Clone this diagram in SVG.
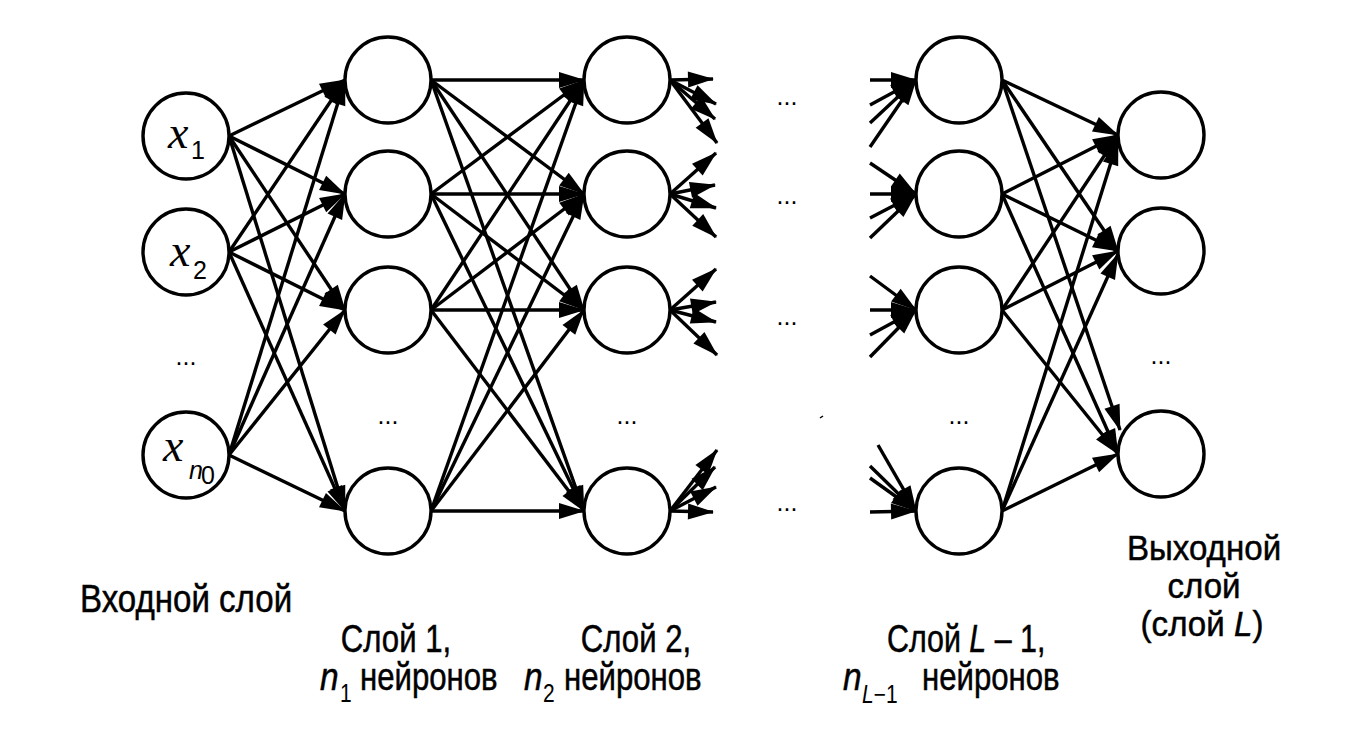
<svg xmlns="http://www.w3.org/2000/svg" width="1355" height="735" viewBox="0 0 1355 735">
<style>
.n{fill:#fff;stroke:#000;stroke-width:3.4}
.e line{stroke:#000;stroke-width:3.4;marker-end:url(#ah)}
.t{font-family:"Liberation Sans",Arial,sans-serif;font-size:38px;fill:#000;stroke:#000;stroke-width:0.5}
.o{font-size:36px}
.d{font-family:"Liberation Sans",Arial,sans-serif;font-size:25px;fill:#000;text-anchor:middle}
.xi{font-family:"Liberation Serif","Times New Roman",serif;font-style:italic;font-size:46px;fill:#000}
.sb{font-family:"Liberation Sans",Arial,sans-serif;font-size:25px;fill:#000}
.it{font-style:italic}
</style>
<defs>
<marker id="ah" markerUnits="userSpaceOnUse" markerWidth="26" markerHeight="16" refX="25" refY="8" orient="auto" overflow="visible">
<path d="M0,0 L26,8 L0,16 z" fill="#000"/>
</marker>
</defs>
<rect width="1355" height="735" fill="#fff"/>
<g id="connectors" class="e">
<line x1="229" y1="136" x2="345" y2="80"/>
<line x1="229" y1="136" x2="345" y2="194"/>
<line x1="229" y1="136" x2="345" y2="310"/>
<line x1="229" y1="136" x2="345" y2="511"/>
<line x1="229" y1="252" x2="345" y2="80"/>
<line x1="229" y1="252" x2="345" y2="194"/>
<line x1="229" y1="252" x2="345" y2="310"/>
<line x1="229" y1="252" x2="345" y2="511"/>
<line x1="229" y1="455" x2="345" y2="80"/>
<line x1="229" y1="455" x2="345" y2="194"/>
<line x1="229" y1="455" x2="345" y2="310"/>
<line x1="229" y1="455" x2="345" y2="511"/>
<line x1="431" y1="80" x2="584" y2="80"/>
<line x1="431" y1="80" x2="584" y2="194"/>
<line x1="431" y1="80" x2="584" y2="310"/>
<line x1="431" y1="80" x2="584" y2="511"/>
<line x1="431" y1="194" x2="584" y2="80"/>
<line x1="431" y1="194" x2="584" y2="194"/>
<line x1="431" y1="194" x2="584" y2="310"/>
<line x1="431" y1="194" x2="584" y2="511"/>
<line x1="431" y1="310" x2="584" y2="80"/>
<line x1="431" y1="310" x2="584" y2="194"/>
<line x1="431" y1="310" x2="584" y2="310"/>
<line x1="431" y1="310" x2="584" y2="511"/>
<line x1="431" y1="511" x2="584" y2="80"/>
<line x1="431" y1="511" x2="584" y2="194"/>
<line x1="431" y1="511" x2="584" y2="310"/>
<line x1="431" y1="511" x2="584" y2="511"/>
<line x1="670" y1="80" x2="713" y2="79"/>
<line x1="670" y1="80" x2="716" y2="104"/>
<line x1="670" y1="80" x2="715" y2="119"/>
<line x1="670" y1="80" x2="717" y2="143"/>
<line x1="670" y1="194" x2="716" y2="153"/>
<line x1="670" y1="194" x2="715" y2="185"/>
<line x1="670" y1="194" x2="716" y2="208"/>
<line x1="670" y1="194" x2="716" y2="237"/>
<line x1="670" y1="310" x2="716" y2="269"/>
<line x1="670" y1="310" x2="716" y2="302"/>
<line x1="670" y1="310" x2="716" y2="322"/>
<line x1="670" y1="310" x2="717" y2="355"/>
<line x1="670" y1="511" x2="717" y2="450"/>
<line x1="670" y1="511" x2="715" y2="467"/>
<line x1="670" y1="511" x2="716" y2="487"/>
<line x1="670" y1="511" x2="713" y2="512"/>
<line x1="870" y1="80" x2="916" y2="80"/>
<line x1="870" y1="105" x2="916" y2="80"/>
<line x1="870" y1="123" x2="916" y2="80"/>
<line x1="870" y1="147" x2="916" y2="80"/>
<line x1="870" y1="163" x2="916" y2="194"/>
<line x1="870" y1="194" x2="916" y2="194"/>
<line x1="870" y1="218" x2="916" y2="194"/>
<line x1="870" y1="238" x2="916" y2="194"/>
<line x1="870" y1="276" x2="916" y2="310"/>
<line x1="870" y1="310" x2="916" y2="310"/>
<line x1="870" y1="335" x2="916" y2="310"/>
<line x1="870" y1="357" x2="916" y2="310"/>
<line x1="878" y1="445" x2="916" y2="511"/>
<line x1="870" y1="466" x2="916" y2="511"/>
<line x1="870" y1="478" x2="916" y2="511"/>
<line x1="870" y1="512" x2="916" y2="511"/>
<line x1="1002" y1="80" x2="1118" y2="135"/>
<line x1="1002" y1="80" x2="1118" y2="251"/>
<line x1="1002" y1="80" x2="1120" y2="430"/>
<line x1="1002" y1="194" x2="1118" y2="135"/>
<line x1="1002" y1="194" x2="1118" y2="251"/>
<line x1="1002" y1="194" x2="1118" y2="454"/>
<line x1="1002" y1="310" x2="1118" y2="135"/>
<line x1="1002" y1="310" x2="1118" y2="251"/>
<line x1="1002" y1="310" x2="1118" y2="454"/>
<line x1="1002" y1="511" x2="1118" y2="140"/>
<line x1="1002" y1="511" x2="1118" y2="254"/>
<line x1="1002" y1="511" x2="1118" y2="454"/>
</g>
<g id="input-layer">
<g id="x1"><circle class="n" cx="186" cy="136" r="43"/><text class="xi" x="168" y="148">x</text><text class="sb" x="191" y="159">1</text></g>
<g id="x2"><circle class="n" cx="186" cy="252" r="43"/><text class="xi" x="170" y="266">x</text><text class="sb" x="193" y="279">2</text></g>
<text class="d" x="186" y="365">...</text>
<g id="xn0"><circle class="n" cx="186" cy="455" r="43"/><text class="xi" x="163" y="461">x</text><text class="sb it" x="189" y="479" font-size="18">n</text><text class="sb" x="201" y="484" font-size="11">0</text></g>
</g>
<g id="layer-1">
<circle id="l1n1" class="n" cx="388" cy="80" r="43"/>
<circle id="l1n2" class="n" cx="388" cy="194" r="43"/>
<circle id="l1n3" class="n" cx="388" cy="310" r="43"/>
<text class="d" x="388" y="424">...</text>
<circle id="l1n4" class="n" cx="388" cy="511" r="43"/>
</g>
<g id="layer-2">
<circle id="l2n1" class="n" cx="627" cy="80" r="43"/>
<circle id="l2n2" class="n" cx="627" cy="194" r="43"/>
<circle id="l2n3" class="n" cx="627" cy="310" r="43"/>
<text class="d" x="627" y="424">...</text>
<circle id="l2n4" class="n" cx="627" cy="511" r="43"/>
</g>
<g id="middle-dots">
<text class="d" x="787" y="105">...</text>
<text class="d" x="787" y="204">...</text>
<text class="d" x="787" y="325">...</text>
<text class="d" x="787" y="511">...</text>
<line x1="820" y1="418" x2="823" y2="416" stroke="#000" stroke-width="1.5"/>
</g>
<g id="layer-L-1">
<circle id="lln1" class="n" cx="959" cy="80" r="43"/>
<circle id="lln2" class="n" cx="959" cy="194" r="43"/>
<circle id="lln3" class="n" cx="959" cy="310" r="43"/>
<text class="d" x="959" y="424">...</text>
<circle id="lln4" class="n" cx="959" cy="511" r="43"/>
</g>
<g id="output-layer">
<circle id="o1" class="n" cx="1161" cy="135" r="43"/>
<circle id="o2" class="n" cx="1161" cy="251" r="43"/>
<text class="d" x="1161" y="364">...</text>
<circle id="o3" class="n" cx="1161" cy="454" r="43"/>
</g>
<g id="labels">
<text class="t" transform="translate(80,612) scale(0.87,1)">Входной слой</text>
<text class="t" text-anchor="middle" transform="translate(396,652) scale(0.82,1)">Слой 1,</text>
<text class="t it" transform="translate(320,690) scale(0.88,1)">n</text>
<text class="sb" transform="translate(340,702) scale(0.84,1)" font-size="26">1</text>
<text class="t" transform="translate(360,690) scale(0.82,1)">нейронов</text>
<text class="t" text-anchor="middle" transform="translate(636,652) scale(0.82,1)">Слой 2,</text>
<text class="t it" transform="translate(524,690) scale(0.88,1)">n</text>
<text class="sb" transform="translate(543,702) scale(0.84,1)" font-size="26">2</text>
<text class="t" transform="translate(564,690) scale(0.82,1)">нейронов</text>
<text class="t" transform="translate(887,652) scale(0.8,1)">Слой <tspan class="it">L</tspan> – 1,</text>
<text class="t it" transform="translate(843,690) scale(0.88,1)">n</text>
<text class="sb" transform="translate(862,703) scale(0.84,1)" font-size="29"><tspan class="it">L</tspan>−1</text>
<text class="t" transform="translate(922,690) scale(0.82,1)">нейронов</text>
<text class="t o" text-anchor="middle" transform="translate(1204,560) scale(0.92,1)">Выходной</text>
<text class="t o" text-anchor="middle" transform="translate(1204,598) scale(0.92,1)">слой</text>
<text class="t o" text-anchor="middle" transform="translate(1202,636) scale(0.92,1)">(слой <tspan class="it">L</tspan>)</text>
</g>
</svg>
